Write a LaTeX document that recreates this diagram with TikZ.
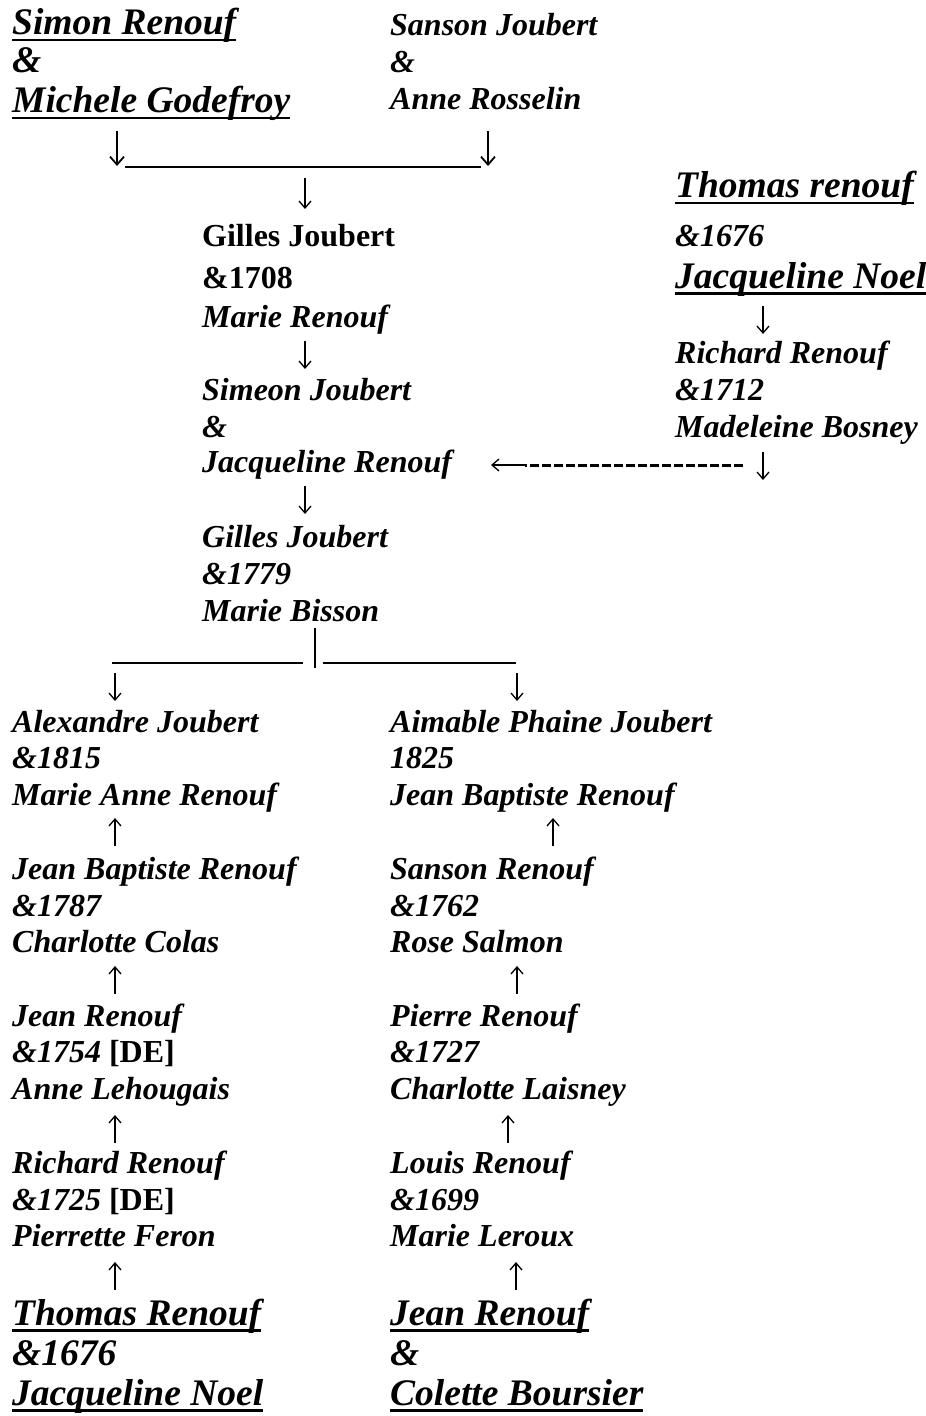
\documentclass[tikz,border=0pt]{standalone}
\usepackage{fontspec}
\setmainfont{Liberation Serif}
\usetikzlibrary{arrows.meta}
\newcommand\wul[1]{\setbox0\hbox{#1}\rlap{\rule[-6.5bp]{\wd0}{2.2bp}}\box0}
\tikzset{
  txt/.style={anchor=base west, inner sep=0pt, font=\fontsize{32bp}{38bp}\selectfont\bfseries\itshape},
  up/.style={txt, font=\fontsize{32bp}{38bp}\selectfont\bfseries},
  big/.style={txt, font=\fontsize{37.5bp}{44bp}\selectfont\bfseries\itshape},
  arr/.style={line width=1.3bp, -{Straight Barb[length=7bp,width=12bp,line width=1.3bp]}},
  bigarr/.style={line width=1.8bp, -{Straight Barb[length=8bp,width=14bp,line width=1.8bp]}},
  rulefine/.style={line width=1.6bp},
  bar/.style={line width=2.8bp},
  dashline/.style={line width=3bp, dash pattern=on 9bp off 3bp}
}
\begin{document}
\begin{tikzpicture}[x=1bp,y=-1bp]
\useasboundingbox (0,0) rectangle (925,1416);
% top couples
\node[big] (simon) at (12,35) {\wul{Simon Renouf}};
\node[big] (amp1) at (12,73) {\&};
\node[big] (michele) at (12,113) {\wul{Michele Godefroy}};
\node[txt] (sanson) at (390,36) {Sanson Joubert};
\node[txt] (amp2) at (390,73) {\&};
\node[txt] (anne) at (390,110) {Anne Rosselin};
% join
\coordinate (j1s) at (117,131); \coordinate (j1e) at (117,166);
\coordinate (j2s) at (488,131); \coordinate (j2e) at (488,166);
\coordinate (jl) at (125,167); \coordinate (jr) at (481,167);
\draw[bigarr] (j1s) -- (j1e);
\draw[bigarr] (j2s) -- (j2e);
\draw[rulefine] (jl) -- (jr);
\coordinate (m1s) at (305,178); \coordinate (m1e) at (305,209);
\draw[arr] (m1s) -- (m1e);
% middle column
\node[up] (gilles1) at (202,247) {Gilles Joubert};
\node[up] (d1708) at (202,288) {\&1708};
\node[txt] (marieR) at (202,327) {Marie Renouf};
\coordinate (m2s) at (305,341); \coordinate (m2e) at (305,369);
\draw[arr] (m2s) -- (m2e);
\node[txt] (simeon) at (202,400) {Simeon Joubert};
\node[txt] (amp3) at (202,437) {\&};
\node[txt] (jacqR) at (202,472) {Jacqueline Renouf};
\coordinate (m3s) at (305,486); \coordinate (m3e) at (305,514);
\draw[arr] (m3s) -- (m3e);
\node[txt] (gilles2) at (202,547) {Gilles Joubert};
\node[txt] (d1779) at (202,584) {\&1779};
\node[txt] (bisson) at (202,621) {Marie Bisson};
% right column
\node[big] (thomasr) at (675,198) {\wul{Thomas renouf}};
\node[txt] (d1676a) at (675,247) {\&1676};
\node[big] (jnoel1) at (675,288) {\wul{Jacqueline Noel}};
\coordinate (r1s) at (763,306); \coordinate (r1e) at (763,334);
\draw[arr] (r1s) -- (r1e);
\node[txt] (richard1) at (675,363) {Richard Renouf};
\node[txt] (d1712) at (675,400) {\&1712};
\node[txt] (madeleine) at (675,437) {Madeleine Bosney};
\coordinate (r2s) at (763,452); \coordinate (r2e) at (763,480);
\draw[arr] (r2s) -- (r2e);
\coordinate (dsh1) at (743,465); \coordinate (dsh2) at (525,465); \coordinate (dtip) at (491,465);
\draw[dashline] (dsh1) -- (dsh2);
\draw[arr] (dsh2) -- (dtip);
% split
\coordinate (bt) at (315,628); \coordinate (bb) at (315,668);
\draw[bar] (bt) -- (bb);
\coordinate (sl1) at (112,663); \coordinate (sl2) at (303,663);
\coordinate (sr1) at (323,663); \coordinate (sr2) at (516,663);
\draw[rulefine] (sl1) -- (sl2);
\draw[rulefine] (sr1) -- (sr2);
\coordinate (s1s) at (115,673); \coordinate (s1e) at (115,701);
\coordinate (s2s) at (517,673); \coordinate (s2e) at (517,701);
\draw[arr] (s1s) -- (s1e);
\draw[arr] (s2s) -- (s2e);
% left column
\node[txt] (alex) at (12,732) {Alexandre Joubert};
\node[txt] (d1815) at (12,768) {\&1815};
\node[txt] (marieanne) at (12,805) {Marie Anne Renouf};
\coordinate (u1b) at (115,846); \coordinate (u1t) at (115,818);
\draw[arr] (u1b) -- (u1t);
\node[txt] (jbr1) at (12,879) {Jean Baptiste Renouf};
\node[txt] (d1787) at (12,916) {\&1787};
\node[txt] (colas) at (12,952) {Charlotte Colas};
\coordinate (u2b) at (115,994); \coordinate (u2t) at (115,966);
\draw[arr] (u2b) -- (u2t);
\node[txt] (jean1) at (12,1026) {Jean Renouf};
\node[txt] (d1754) at (12,1062) {\&1754 {\upshape [DE]}};
\node[txt] (lehougais) at (12,1099) {Anne Lehougais};
\coordinate (u3b) at (115,1143); \coordinate (u3t) at (115,1115);
\draw[arr] (u3b) -- (u3t);
\node[txt] (richard2) at (12,1173) {Richard Renouf};
\node[txt] (d1725) at (12,1210) {\&1725 {\upshape [DE]}};
\node[txt] (feron) at (12,1246) {Pierrette Feron};
\coordinate (u4b) at (115,1290); \coordinate (u4t) at (115,1262);
\draw[arr] (u4b) -- (u4t);
\node[big] (thomasR) at (12,1325) {\wul{Thomas Renouf}};
\node[big] (d1676b) at (12,1365) {\&1676};
\node[big] (jnoel2) at (12,1405) {\wul{Jacqueline Noel}};
% right lower column
\node[txt] (aimable) at (390,732) {Aimable Phaine Joubert};
\node[txt] (d1825) at (390,768) {1825};
\node[txt] (jbr2) at (390,805) {Jean Baptiste Renouf};
\coordinate (v1b) at (553,846); \coordinate (v1t) at (553,818);
\draw[arr] (v1b) -- (v1t);
\node[txt] (sansonR) at (390,879) {Sanson Renouf};
\node[txt] (d1762) at (390,916) {\&1762};
\node[txt] (salmon) at (390,952) {Rose Salmon};
\coordinate (v2b) at (517,994); \coordinate (v2t) at (517,966);
\draw[arr] (v2b) -- (v2t);
\node[txt] (pierre) at (390,1026) {Pierre Renouf};
\node[txt] (d1727) at (390,1062) {\&1727};
\node[txt] (laisney) at (390,1099) {Charlotte Laisney};
\coordinate (v3b) at (508,1143); \coordinate (v3t) at (508,1115);
\draw[arr] (v3b) -- (v3t);
\node[txt] (louis) at (390,1173) {Louis Renouf};
\node[txt] (d1699) at (390,1210) {\&1699};
\node[txt] (leroux) at (390,1246) {Marie Leroux};
\coordinate (v4b) at (516,1290); \coordinate (v4t) at (516,1262);
\draw[arr] (v4b) -- (v4t);
\node[big] (jean2) at (390,1325) {\wul{Jean Renouf}};
\node[big] (amp4) at (390,1365) {\&};
\node[big] (colette) at (390,1405) {\wul{Colette Boursier}};
\end{tikzpicture}
\end{document}
